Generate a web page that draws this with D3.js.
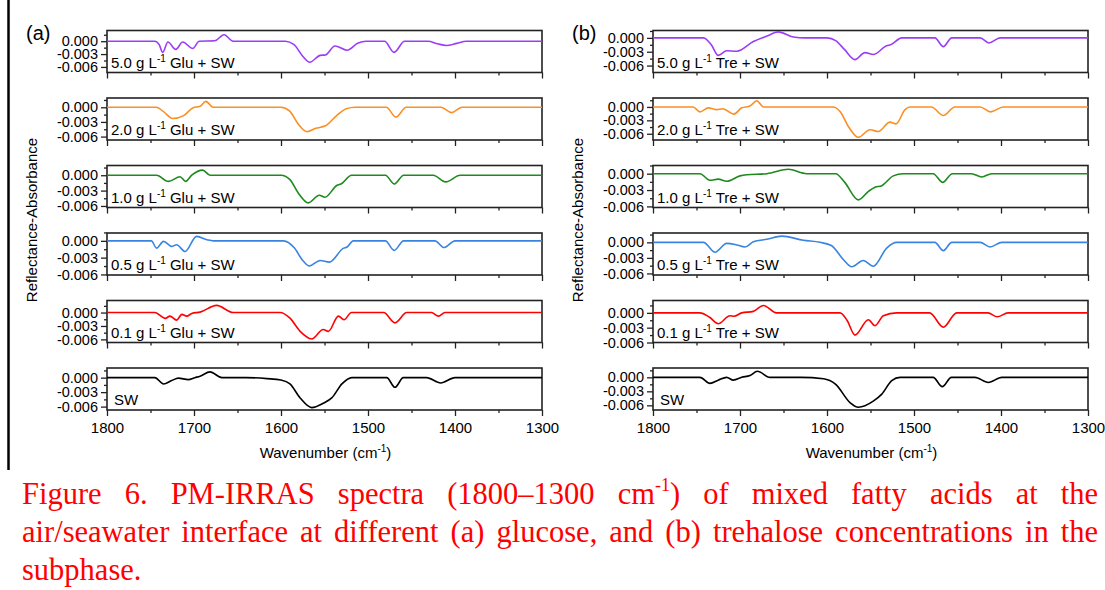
<!DOCTYPE html>
<html>
<head>
<meta charset="utf-8">
<script src="https://cdn.jsdelivr.net/npm/d3@7"></script>
<style>
    body { margin: 0; background: #fff; }
    svg text { font-family: "Liberation Sans", Arial, sans-serif; fill: #000; }
    svg .caption { font-family: "Liberation Serif", "Times New Roman", serif; fill: #ff0000; }
</style>
</head>
<body>
<svg id="chart" width="1105" height="590"></svg>
<script>
// axis ticks
const X_MAJOR_TICKS = [1800, 1700, 1600, 1500, 1400, 1300];
const X_MINOR_TICKS = [1750, 1650, 1550, 1450, 1350];
const Y_MAJOR_TICKS = [0, -0.003, -0.006];
const Y_MINOR_TICKS = [0.0015, -0.0015, -0.0045];

// panel labels, top to bottom
const CONCENTRATIONS = ["5.0", "2.0", "1.0", "0.5", "0.1", null];

// y ranges per panel [min, max]
const Y_RANGES_GLU = [[-0.0073, 0.0025], [-0.0067, 0.0019], [-0.0063, 0.0019], [-0.0061, 0.0014], [-0.0067, 0.0027], [-0.0067, 0.002]];
const Y_RANGES_TRE = [[-0.0075, 0.0016], [-0.0074, 0.002], [-0.0062, 0.0015], [-0.0063, 0.0018], [-0.006, 0.0025], [-0.007, 0.002]];

// spectra [wavenumber, reflectance-absorbance], (a) glucose
const glu50 = [[1800, 0], [1745, 0], [1740, -0.0008], [1736, -0.0026], [1730, -0.0002], [1721, -0.0019], [1713, -0.0002], [1701.5, -0.0017], [1694, 0], [1676, 0.0001], [1665.5, 0.0015], [1655, 0], [1595, 0], [1585, -0.0008], [1575, -0.0035], [1567, -0.0049], [1555, -0.0033], [1549, -0.0032], [1538, -0.0011], [1524, -0.0021], [1512, -0.0005], [1502, 0], [1481, 0], [1470, -0.0026], [1458, 0], [1431, 0], [1420, -0.0006], [1410, -0.001], [1398, -0.0005], [1387, 0], [1300, 0]];
const glu20 = [[1800, 0], [1743, 0], [1735, -0.0009], [1724.5, -0.0023], [1712, -0.0017], [1701, -0.0001], [1693, 0.0002], [1686.5, 0.0012], [1678, 0], [1600, 0], [1590, -0.0008], [1580, -0.0035], [1570, -0.005], [1560, -0.0043], [1549, -0.0038], [1536, -0.0017], [1525, -0.0003], [1515, 0], [1479, 0], [1468, -0.002], [1456, 0], [1416, 0], [1404, -0.0011], [1392, 0], [1300, 0]];
const glu10 = [[1800, 0], [1743, 0], [1729.5, -0.0012], [1716, -0.0003], [1709.6, -0.0012], [1702.6, 0], [1690, 0.001], [1681.6, 0], [1600, 0], [1590, -0.0008], [1580, -0.0035], [1568.6, -0.0054], [1556, -0.0039], [1549.4, -0.0043], [1536, -0.002], [1530, -0.0016], [1519, 0], [1480, 0], [1469.7, -0.0017], [1459, 0], [1425, 0], [1410.7, -0.0013], [1394, 0], [1300, 0]];
const glu05 = [[1800, 0], [1749, 0], [1743, -0.0013], [1735, -0.0001], [1725.6, -0.001], [1720, -0.0007], [1710.3, -0.0019], [1697, 0.0008], [1685, 0.0002], [1678, 0], [1597, 0], [1585, -0.0012], [1575, -0.0035], [1567.5, -0.0045], [1555, -0.0035], [1544.5, -0.0038], [1528, -0.0013], [1524, -0.0011], [1517, 0], [1480, 0], [1470, -0.0017], [1459, 0], [1423, 0], [1412.6, -0.0012], [1400, 0], [1300, 0]];
const glu01 = [[1800, 0], [1745, 0], [1733, -0.0013], [1727.6, -0.0008], [1720, -0.0017], [1714, -0.0004], [1708.4, -0.0008], [1702.6, -0.0002], [1693, 0.0001], [1674, 0.0016], [1655, 0], [1601, 0], [1590, -0.0012], [1578, -0.0042], [1564.7, -0.0059], [1551.4, -0.0038], [1545.6, -0.0042], [1534, -0.0008], [1527.6, -0.0016], [1519, 0], [1482, 0], [1469, -0.0023], [1455.5, 0], [1427, 0], [1419, -0.0008], [1411.5, 0], [1300, 0]];
const swGlu = [[1800, 0], [1745, 0], [1735, -0.0013], [1725.6, -0.0006], [1718, -0.0001], [1706.5, -0.0004], [1699, 0], [1693, 0.0003], [1681.6, 0.0012], [1668, 0], [1640, 0], [1616, -0.0002], [1600, -0.0005], [1589.7, -0.0013], [1578, -0.0042], [1564.7, -0.0062], [1551.4, -0.0053], [1541.7, -0.0042], [1530, -0.0013], [1518.7, 0], [1478.5, 0], [1469, -0.002], [1459.4, 0], [1432.6, 0], [1416.5, -0.0011], [1400, 0], [1300, 0]];

// (b) trehalose
const tre50 = [[1800, 0], [1742, 0], [1733, -0.0015], [1725, -0.0038], [1715.3, -0.0028], [1703.8, -0.0029], [1684.7, -0.0008], [1669, 0.0004], [1656, 0.0013], [1638.7, 0.0002], [1625, 0], [1600, 0], [1590, -0.0006], [1580, -0.0025], [1568, -0.0047], [1556.3, -0.0032], [1546.8, -0.0036], [1531.4, -0.0017], [1526.8, -0.0015], [1514, 0], [1476, 0], [1466.3, -0.0019], [1456.7, 0], [1424, 0], [1413.8, -0.0011], [1401, 0], [1300, 0]];
const tre20 = [[1800, 0], [1754, 0], [1746, -0.0011], [1736.4, -0.0002], [1726.8, -0.0006], [1720, -0.0004], [1706.9, -0.0016], [1698, -0.0002], [1688.5, 0.0002], [1680.8, 0.0014], [1673, 0], [1593, 0], [1585, -0.001], [1575, -0.0045], [1564, -0.0068], [1550.6, -0.0051], [1541, -0.0055], [1527.6, -0.0034], [1520.7, -0.0038], [1510.3, -0.0006], [1504.6, 0], [1480, 0], [1466.3, -0.0019], [1453, 0], [1424, 0], [1412, -0.0011], [1397.4, 0], [1300, 0]];
const tre10 = [[1800, 0], [1746, 0], [1734.5, -0.0012], [1725, -0.001], [1715.3, -0.0014], [1700, -0.0004], [1692.3, -0.0002], [1669, 0], [1644.5, 0.0008], [1623.3, 0], [1590, 0], [1580, -0.0015], [1564, -0.0048], [1552, -0.0032], [1544.8, -0.0025], [1537, -0.0022], [1523.8, -0.0004], [1512.3, 0], [1478, 0], [1467, -0.0016], [1456, 0], [1434, 0], [1422.2, -0.0006], [1410.7, 0], [1300, 0]];
const tre05 = [[1800, 0], [1742, 0], [1728.7, -0.0019], [1715.3, -0.0002], [1703.8, -0.0005], [1694.3, -0.0009], [1684.7, 0.0001], [1669, 0.0006], [1652, 0.0012], [1627.2, 0.0004], [1608, 0], [1595, -0.0006], [1581.3, -0.0033], [1571.6, -0.0047], [1558.3, -0.0035], [1546.8, -0.0046], [1531.4, -0.0011], [1520, 0], [1476, 0], [1466.3, -0.0016], [1456.7, 0], [1424, 0], [1412.6, -0.0009], [1399, 0], [1300, 0]];
const tre01 = [[1800, 0], [1746, 0], [1735, -0.0009], [1725, -0.0022], [1711.5, -0.0006], [1707, -0.0007], [1698, 0], [1684.7, 0.0003], [1673, 0.0015], [1658, 0], [1585, 0], [1577, -0.0015], [1567.8, -0.0045], [1552.5, -0.0014], [1544.8, -0.0026], [1535.3, -0.0006], [1520, 0], [1482, 0], [1466.3, -0.0029], [1451, 0], [1415, 0], [1404.3, -0.0008], [1392, 0], [1300, 0]];
const swTre = [[1800, 0], [1746, 0], [1734.5, -0.0013], [1725, -0.0006], [1715.3, 0], [1707.7, -0.0006], [1698, 0], [1688.5, 0.0004], [1680, 0.0013], [1665.5, 0], [1630, 0], [1604, -0.0003], [1590, -0.0015], [1573.6, -0.0054], [1564, -0.0064], [1546.8, -0.0051], [1537, -0.0036], [1525.6, -0.0007], [1516, 0], [1478, 0], [1467.5, -0.002], [1457, 0], [1430, 0], [1414.6, -0.0011], [1399, 0], [1300, 0]];

// caption lines
const CAPTION_LINE_1 = ["Figure 6. PM-IRRAS spectra (1800–1300 cm", "-1", ") of mixed fatty acids at the"];
const CAPTION_LINE_2 = "air/seawater interface at different (a) glucose, and (b) trehalose concentrations in the";
const CAPTION_LINE_3 = "subphase.";

// line colours, top to bottom
const LINE_COLORS = ["#9b3cf7", "#fb8f25", "#1c8a1c", "#3984df", "#ff0000", "#000000"];

const svg = d3.select("#chart");

// plot geometry
const PLOT_W = 435;
const PLOT_H = 42;
const PANEL_TOPS = [30.5, 98, 165.5, 233, 300.5, 368];

// left edge of the figure frame
svg.append("line")
    .attr("x1", 8.5).attr("x2", 8.5)
    .attr("y1", 0).attr("y2", 470)
    .attr("stroke", "#000").attr("stroke-width", 2.5);

const tickFormat = d => d3.format(".3f")(d).replace("\u2212", "-");

function drawColumn(left, seriesList, sugar, yRanges, tag) {
    // shared wavenumber scale
    const x = d3.scaleLinear().domain([1800, 1300]).range([left, left + PLOT_W]);

    seriesList.forEach((data, i) => {
        const top = PANEL_TOPS[i];
        const y = d3.scaleLinear().domain(yRanges[i]).range([top + PLOT_H, top]);
        const g = svg.append("g");
        const isLast = i === seriesList.length - 1;

        // minor x ticks
        g.append("g")
            .attr("transform", `translate(0,${top + PLOT_H})`)
            .call(d3.axisBottom(x).tickValues(X_MINOR_TICKS).tickSize(3).tickSizeOuter(0).tickFormat(""));

        // major x ticks
        g.append("g")
            .attr("class", "x-major")
            .attr("transform", `translate(0,${top + PLOT_H})`)
            .call(d3.axisBottom(x).tickValues(X_MAJOR_TICKS).tickSize(6).tickSizeOuter(0)
                .tickFormat(isLast ? d3.format("d") : ""));

        // minor y ticks
        g.append("g")
            .attr("transform", `translate(${left},0)`)
            .call(d3.axisLeft(y).tickValues(Y_MINOR_TICKS).tickSize(3).tickSizeOuter(0).tickFormat(""));

        // major y ticks
        g.append("g")
            .attr("class", "y-major")
            .attr("transform", `translate(${left},0)`)
            .call(d3.axisLeft(y).tickValues(Y_MAJOR_TICKS).tickSize(6).tickSizeOuter(0).tickPadding(3)
                .tickFormat(tickFormat));

        g.selectAll(".domain").remove();
        g.selectAll(".tick line").attr("stroke", "#222").attr("stroke-width", 1.3);
        g.selectAll(".y-major text").attr("font-size", 14.5).attr("font-family", "Liberation Sans");
        g.selectAll(".x-major text").attr("font-size", 15).attr("font-family", "Liberation Sans").attr("dy", "0.9em");

        // plot frame
        g.append("rect")
            .attr("x", left).attr("y", top)
            .attr("width", PLOT_W).attr("height", PLOT_H)
            .attr("fill", "none").attr("stroke", "#222").attr("stroke-width", 1.6);

        // spectrum
        const line = d3.line()
            .x(d => x(d[0]))
            .y(d => y(d[1]))
            .curve(d3.curveMonotoneX);
        g.append("path")
            .datum(data)
            .attr("d", line)
            .attr("fill", "none")
            .attr("stroke", LINE_COLORS[i])
            .attr("stroke-width", 1.6);

        // panel label
        const conc = CONCENTRATIONS[i];
        const label = g.append("text")
            .attr("font-size", 15)
            .attr("x", left + (conc ? 4 : 7))
            .attr("y", top + PLOT_H - 5);
        if (conc) {
            label.append("tspan").text(`${conc} g L`);
            label.append("tspan").attr("font-size", 10).attr("dy", -6).text("-1");
            label.append("tspan").attr("dy", 6).text(` ${sugar} + SW`);
        } else {
            label.text("SW");
        }
    });

    // x axis title
    const xTitle = svg.append("text")
        .attr("font-size", 15)
        .attr("text-anchor", "middle")
        .attr("x", left + PLOT_W / 2 + 1)
        .attr("y", 458);
    xTitle.append("tspan").text("Wavenumber (cm");
    xTitle.append("tspan").attr("font-size", 10).attr("dy", -6).text("-1");
    xTitle.append("tspan").attr("dy", 6).text(")");

    // y axis title
    svg.append("text")
        .attr("font-size", 15)
        .attr("text-anchor", "middle")
        .attr("transform", `translate(${left - 70},220) rotate(-90)`)
        .text("Reflectance-Absorbance");

    // panel tag
    svg.append("text")
        .attr("font-size", 20)
        .attr("x", left - 81)
        .attr("y", 40)
        .text(tag);
}

drawColumn(107, [glu50, glu20, glu10, glu05, glu01, swGlu], "Glu", Y_RANGES_GLU, "(a)");
drawColumn(653, [tre50, tre20, tre10, tre05, tre01, swTre], "Tre", Y_RANGES_TRE, "(b)");

// caption, justified between the margins
const CAP_LEFT = 22;
const CAP_RIGHT = 1098;
const CAP_SIZE = 30.5;

function justify(textSel, str) {
    const natural = textSel.node().getComputedTextLength();
    const gaps = (str.match(/ /g) || []).length;
    textSel.attr("word-spacing", (CAP_RIGHT - CAP_LEFT - natural) / gaps);
}

const cap1 = svg.append("text").attr("class", "caption")
    .attr("font-size", CAP_SIZE).attr("x", CAP_LEFT).attr("y", 504);
cap1.append("tspan").text(CAPTION_LINE_1[0]);
cap1.append("tspan").attr("font-size", 18).attr("dy", -13).text(CAPTION_LINE_1[1]);
cap1.append("tspan").attr("dy", 13).text(CAPTION_LINE_1[2]);
justify(cap1, CAPTION_LINE_1.join(""));

const cap2 = svg.append("text").attr("class", "caption")
    .attr("font-size", CAP_SIZE).attr("x", CAP_LEFT).attr("y", 542)
    .text(CAPTION_LINE_2);
justify(cap2, CAPTION_LINE_2);

svg.append("text").attr("class", "caption")
    .attr("font-size", CAP_SIZE).attr("x", CAP_LEFT).attr("y", 580)
    .text(CAPTION_LINE_3);
</script>
</body>
</html>
